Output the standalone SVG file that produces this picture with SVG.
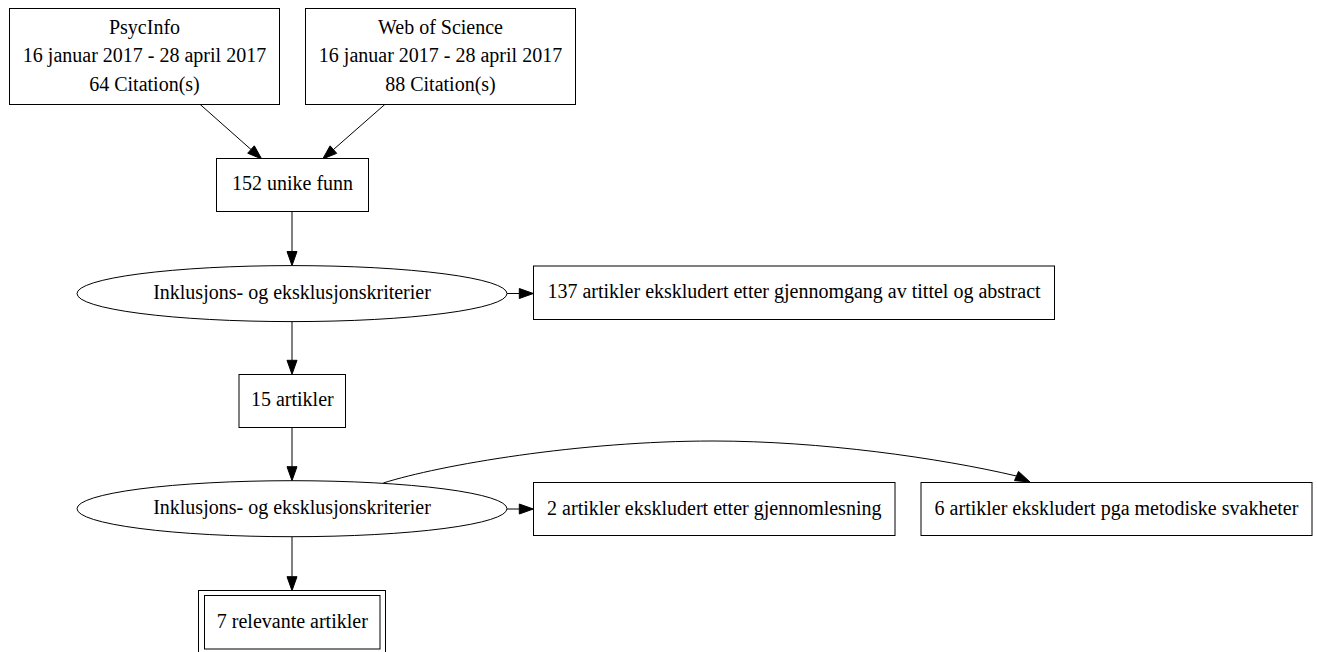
<svg xmlns="http://www.w3.org/2000/svg" width="1317" height="652" viewBox="0 0 1317 652">
<style>
.n{fill:#fff;stroke:#000;stroke-width:1}
.t{font-family:"Liberation Serif","Times New Roman",serif;font-size:20px;fill:#000;text-anchor:middle}
.e{fill:none;stroke:#000;stroke-width:1}
.h{fill:#000;stroke:#000;stroke-width:1}
</style>
<rect width="1317" height="652" fill="#fff"/>
<g id="connectors">
<path class="e" d="M200,104.3 L251,149.5"/>
<polygon class="h" points="247.7,153.2 254.3,145.8 261.7,159"/>
<path class="e" d="M385,104.3 L333.4,149.6"/>
<polygon class="h" points="330.1,145.85 336.7,153.35 322.7,159"/>
<path class="e" d="M292,211.7 L292,251.5"/>
<polygon class="h" points="287,251.5 297,251.5 292,265.5"/>
<path class="e" d="M506.7,293.5 L519.3,293.5"/>
<polygon class="h" points="519.3,288.5 519.3,298.5 533.3,293.5"/>
<path class="e" d="M292,321.7 L292,360.3"/>
<polygon class="h" points="287,360.3 297,360.3 292,374.3"/>
<path class="e" d="M292,427.7 L292,466.7"/>
<polygon class="h" points="287,466.7 297,466.7 292,480.7"/>
<path class="e" d="M506.7,509 L519.3,509"/>
<polygon class="h" points="519.3,504 519.3,514 533.3,509"/>
<path class="e" d="M383.3,483 C440,465 580,441 713,441 C820,441 940,458 1016.5,476"/>
<polygon class="h" points="1014.5,480.6 1018.5,471.4 1030,482"/>
<path class="e" d="M292,536.7 L292,576.7"/>
<polygon class="h" points="287,576.7 297,576.7 292,590.7"/>
</g>
<g id="psycinfo">
<rect class="n" x="9.5" y="8.5" width="270" height="96"/>
<text class="t" x="144.5" y="33.5">PsycInfo</text>
<text class="t" x="144.5" y="62">16 januar 2017 - 28 april 2017</text>
<text class="t" x="144.5" y="90.5">64 Citation(s)</text>
</g>
<g id="wos">
<rect class="n" x="305.5" y="8.5" width="270" height="96"/>
<text class="t" x="440.5" y="33.5">Web of Science</text>
<text class="t" x="440.5" y="62">16 januar 2017 - 28 april 2017</text>
<text class="t" x="440.5" y="90.5">88 Citation(s)</text>
</g>
<g id="unike">
<rect class="n" x="216.5" y="158.5" width="152" height="53"/>
<text class="t" x="292.5" y="190">152 unike funn</text>
</g>
<g id="kriterier1">
<ellipse class="n" cx="292" cy="293.6" rx="215" ry="28"/>
<text class="t" x="292" y="298.5">Inklusjons- og eksklusjonskriterier</text>
</g>
<g id="ekskl137">
<rect class="n" x="533.5" y="266" width="521" height="53.5"/>
<text class="t" x="794" y="298">137 artikler ekskludert etter gjennomgang av tittel og abstract</text>
</g>
<g id="art15">
<rect class="n" x="239" y="374.5" width="106.5" height="53"/>
<text class="t" x="292.3" y="406">15 artikler</text>
</g>
<g id="kriterier2">
<ellipse class="n" cx="292" cy="508.7" rx="215" ry="28"/>
<text class="t" x="292" y="514">Inklusjons- og eksklusjonskriterier</text>
</g>
<g id="ekskl2">
<rect class="n" x="533.5" y="482.5" width="361.5" height="53"/>
<text class="t" x="714.3" y="514.5">2 artikler ekskludert etter gjennomlesning</text>
</g>
<g id="ekskl6">
<rect class="n" x="921" y="482.5" width="391" height="53"/>
<text class="t" x="1116.5" y="514.5">6 artikler ekskludert pga metodiske svakheter</text>
</g>
<g id="relevante">
<rect class="n" x="198.5" y="590.5" width="187" height="64"/>
<rect class="n" x="204.5" y="595.5" width="175.5" height="53.5"/>
<text class="t" x="292.3" y="627.5">7 relevante artikler</text>
</g>
</svg>
